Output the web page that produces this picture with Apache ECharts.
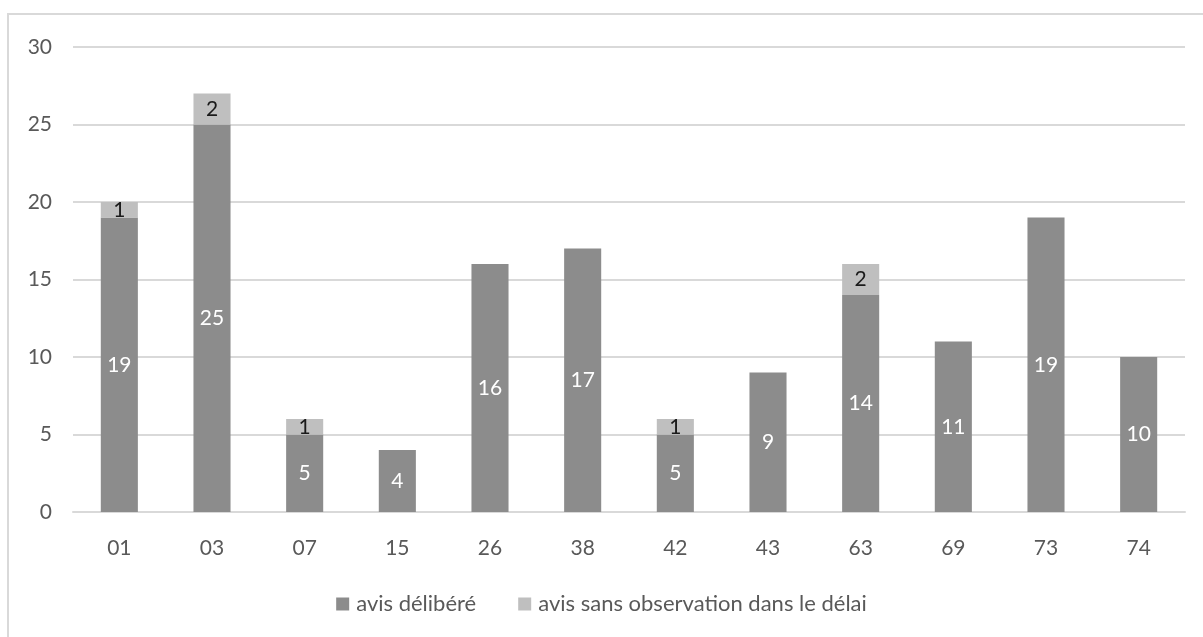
<!DOCTYPE html>
<html>
<head>
<meta charset="utf-8">
<script src="https://cdn.jsdelivr.net/npm/echarts@6/dist/echarts.min.js"></script>
<style>
  html, body { margin: 0; padding: 0; background: #fff; }
  #chart { width: 1203px; height: 637px; }
</style>
</head>
<body>
<div id="chart"></div>
<script>
// Départements
const categories = ['01', '03', '07', '15', '26', '38', '42', '43', '63', '69', '73', '74'];
// Avis délibérés par département
const avisDelibere = [19, 25, 5, 4, 16, 17, 5, 9, 14, 11, 19, 10];
// Avis tacites (sans observation dans le délai)
const avisSansObservation = [1, 2, 1, 0, 0, 0, 1, 0, 2, 0, 0, 0];
const yTicks = { min: 0, max: 30, interval: 5 };

const FONT = 'Lato, "Open Sans", sans-serif';
const chart = echarts.init(document.getElementById('chart'), null, { renderer: 'canvas' });

chart.setOption({
  animation: false,
  backgroundColor: '#ffffff',
  textStyle: { fontFamily: FONT },
  graphic: [{
    type: 'rect',
    shape: { x: 8, y: 14, width: 1300, height: 700 },
    style: { fill: 'none', stroke: '#d9d9d9', lineWidth: 2 },
    silent: true
  }],
  grid: { left: 73, right: 18, top: 47, bottom: 125, containLabel: false },
  legend: {
    bottom: 17,
    left: 'center',
    itemWidth: 13,
    itemHeight: 13,
    itemGap: 42,
    icon: 'rect',
    textStyle: { color: '#595959', fontSize: 22, fontFamily: FONT, padding: [0, 0, 0, 2] },
    data: ['avis délibéré', 'avis sans observation dans le délai']
  },
  xAxis: {
    type: 'category',
    data: categories,
    axisLine: { show: true, lineStyle: { color: '#d9d9d9', width: 2 } },
    axisTick: { show: false },
    axisLabel: { color: '#595959', fontSize: 21, margin: 26, fontFamily: FONT }
  },
  yAxis: {
    type: 'value',
    min: yTicks.min,
    max: yTicks.max,
    interval: yTicks.interval,
    axisLine: { show: false },
    axisTick: { show: false },
    splitLine: { lineStyle: { color: '#d9d9d9', width: 2 } },
    axisLabel: { color: '#595959', fontSize: 21, margin: 21, fontFamily: FONT }
  },
  series: [
    {
      name: 'avis délibéré',
      type: 'bar',
      stack: 'avis',
      barWidth: '40%',
      data: avisDelibere,
      itemStyle: { color: '#8c8c8c' },
      label: {
        show: true,
        position: 'inside',
        color: '#ffffff',
        fontSize: 21,
        fontFamily: FONT,
        formatter: p => (p.value > 0 ? p.value : '')
      }
    },
    {
      name: 'avis sans observation dans le délai',
      type: 'bar',
      stack: 'avis',
      barWidth: '40%',
      data: avisSansObservation,
      itemStyle: { color: '#bfbfbf' },
      label: {
        show: true,
        position: 'inside',
        color: '#1a1a1a',
        fontSize: 21,
        fontFamily: FONT,
        formatter: p => (p.value > 0 ? p.value : '')
      }
    }
  ]
});
</script>
</body>
</html>
